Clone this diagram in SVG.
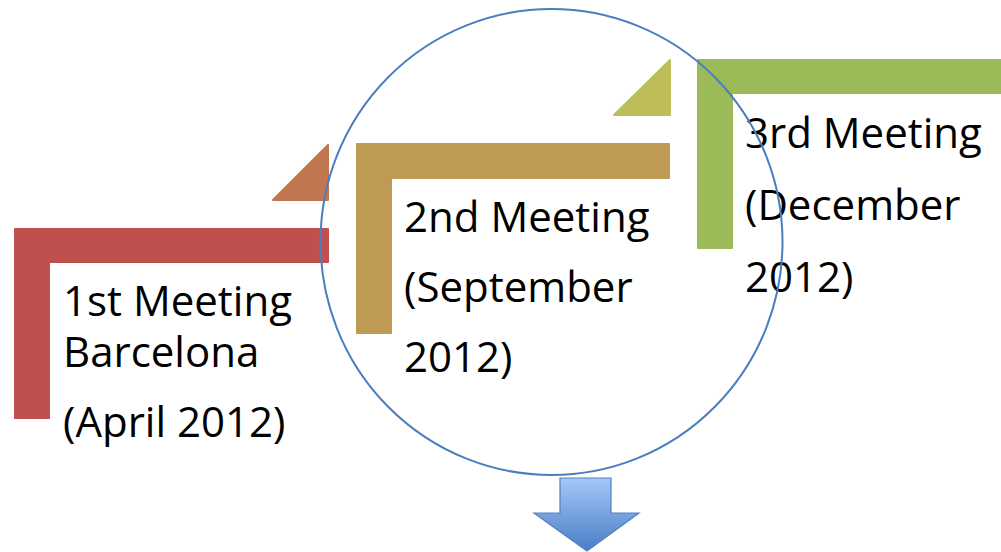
<svg xmlns="http://www.w3.org/2000/svg" width="1001" height="552" viewBox="0 0 1001 552">
<defs>
<linearGradient id="arrowGrad" x1="0" y1="0" x2="0" y2="1">
<stop offset="0" stop-color="#A6C8F8"/>
<stop offset="1" stop-color="#4A7DC6"/>
</linearGradient>
<style>
.lbl{font-family:"Open Sans","Noto Sans","Liberation Sans",sans-serif;font-size:42px;fill:#000}
.shape{stroke-linejoin:round;stroke-width:2}
.red{fill:#C0504D;stroke:#C0504D}
.tri1{fill:#C0764F;stroke:#C0764F}
.gold{fill:#BF9A52;stroke:#BF9A52}
.tri2{fill:#BEBE58;stroke:#BEBE58}
.green{fill:#9BBB59;stroke:#9BBB59}
.ring{fill:none;stroke:#4A7EBF;stroke-width:2}
</style>
</defs>
<rect width="1001" height="552" fill="#FFFFFF"/>

<g id="step1">
<path class="shape red" d="M15,229 H328 V262 H49 V418 H15 Z"/>
<path class="shape tri1" d="M273,200 L328,145 V200 Z"/>
<text class="lbl" x="63" y="316">1st Meeting</text>
<text class="lbl" x="63" y="367">Barcelona</text>
<text class="lbl" x="63" y="437">(April 2012)</text>
</g>

<g id="step2">
<path class="shape gold" d="M357,144 H669 V178 H391 V333 H357 Z"/>
<path class="shape tri2" d="M614,115 L670,60 V115 Z"/>
<text class="lbl" x="404" y="232">2nd Meeting</text>
<text class="lbl" x="404" y="302">(September</text>
<text class="lbl" x="404" y="372">2012)</text>
</g>

<g id="step3">
<path class="shape green" d="M698,60 H1002 V93 H732 V248 H698 Z"/>
<text class="lbl" x="745" y="148">3rd Meeting</text>
<text class="lbl" x="745" y="220">(December</text>
<text class="lbl" x="745" y="292">2012)</text>
</g>

<g id="circle">
<ellipse class="ring" cx="551.5" cy="242" rx="231" ry="233"/>
</g>

<g id="connectors">
<g id="arrow-down">
<path d="M560,478 H611 V513 H639 L587,551 L534,513 H560 Z" fill="url(#arrowGrad)" stroke="#4F81BD" stroke-width="1.2" stroke-linejoin="miter"/>
</g>
</g>
</svg>
